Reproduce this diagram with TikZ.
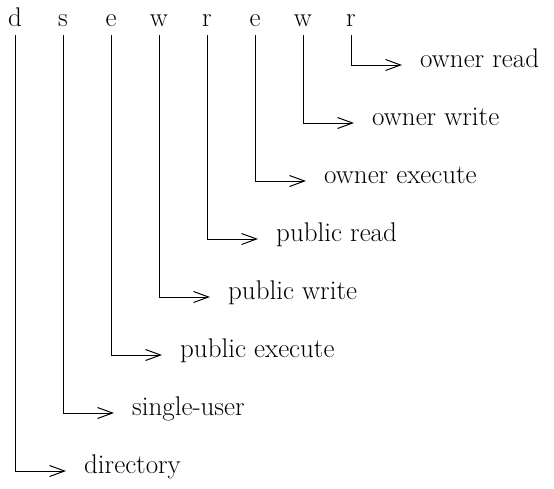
\documentclass[tikz,border=0pt]{standalone}
\usetikzlibrary{arrows.meta}
\begin{document}
\begin{tikzpicture}[x=1pt,y=1pt,
  txt/.style={font=\fontsize{27}{30}\selectfont, inner sep=0pt},
  flag/.style={txt, anchor=base},
  desc/.style={txt, anchor=west, text height=1ex, text depth=0pt},
  lead/.style={line width=1pt, shorten <=9pt, shorten >=18pt,
    -{Straight Barb[length=15pt,width=11pt,line width=1pt]}}]
\useasboundingbox (0,0) rectangle (554,-488);
% permission letters along the top
\foreach \c/\n [count=\i] in {d/fd,s/fs,e/fpx,w/fpw,r/fpr,e/fox,w/fow,r/for}
  \node[flag] (\n) at ({15+48*(\i-1)},-26) {\c};
% one description per letter, stepping down
\node[desc] (tor) at (420,-65)  {owner read};
\node[desc] (tow) at (372,-123) {owner write};
\node[desc] (tox) at (324,-181) {owner execute};
\node[desc] (tpr) at (276,-239) {public read};
\node[desc] (tpw) at (228,-297) {public write};
\node[desc] (tpx) at (180,-355) {public execute};
\node[desc] (ts)  at (132,-413) {single-user};
\node[desc] (td)  at (84,-471)  {directory};
% elbow leaders from each letter to its description
\foreach \a/\b in {for/tor,fow/tow,fox/tox,fpr/tpr,fpw/tpw,fpx/tpx,fs/ts,fd/td}
  \draw[lead] (\a.south) |- (\b.west);
\end{tikzpicture}
\end{document}
